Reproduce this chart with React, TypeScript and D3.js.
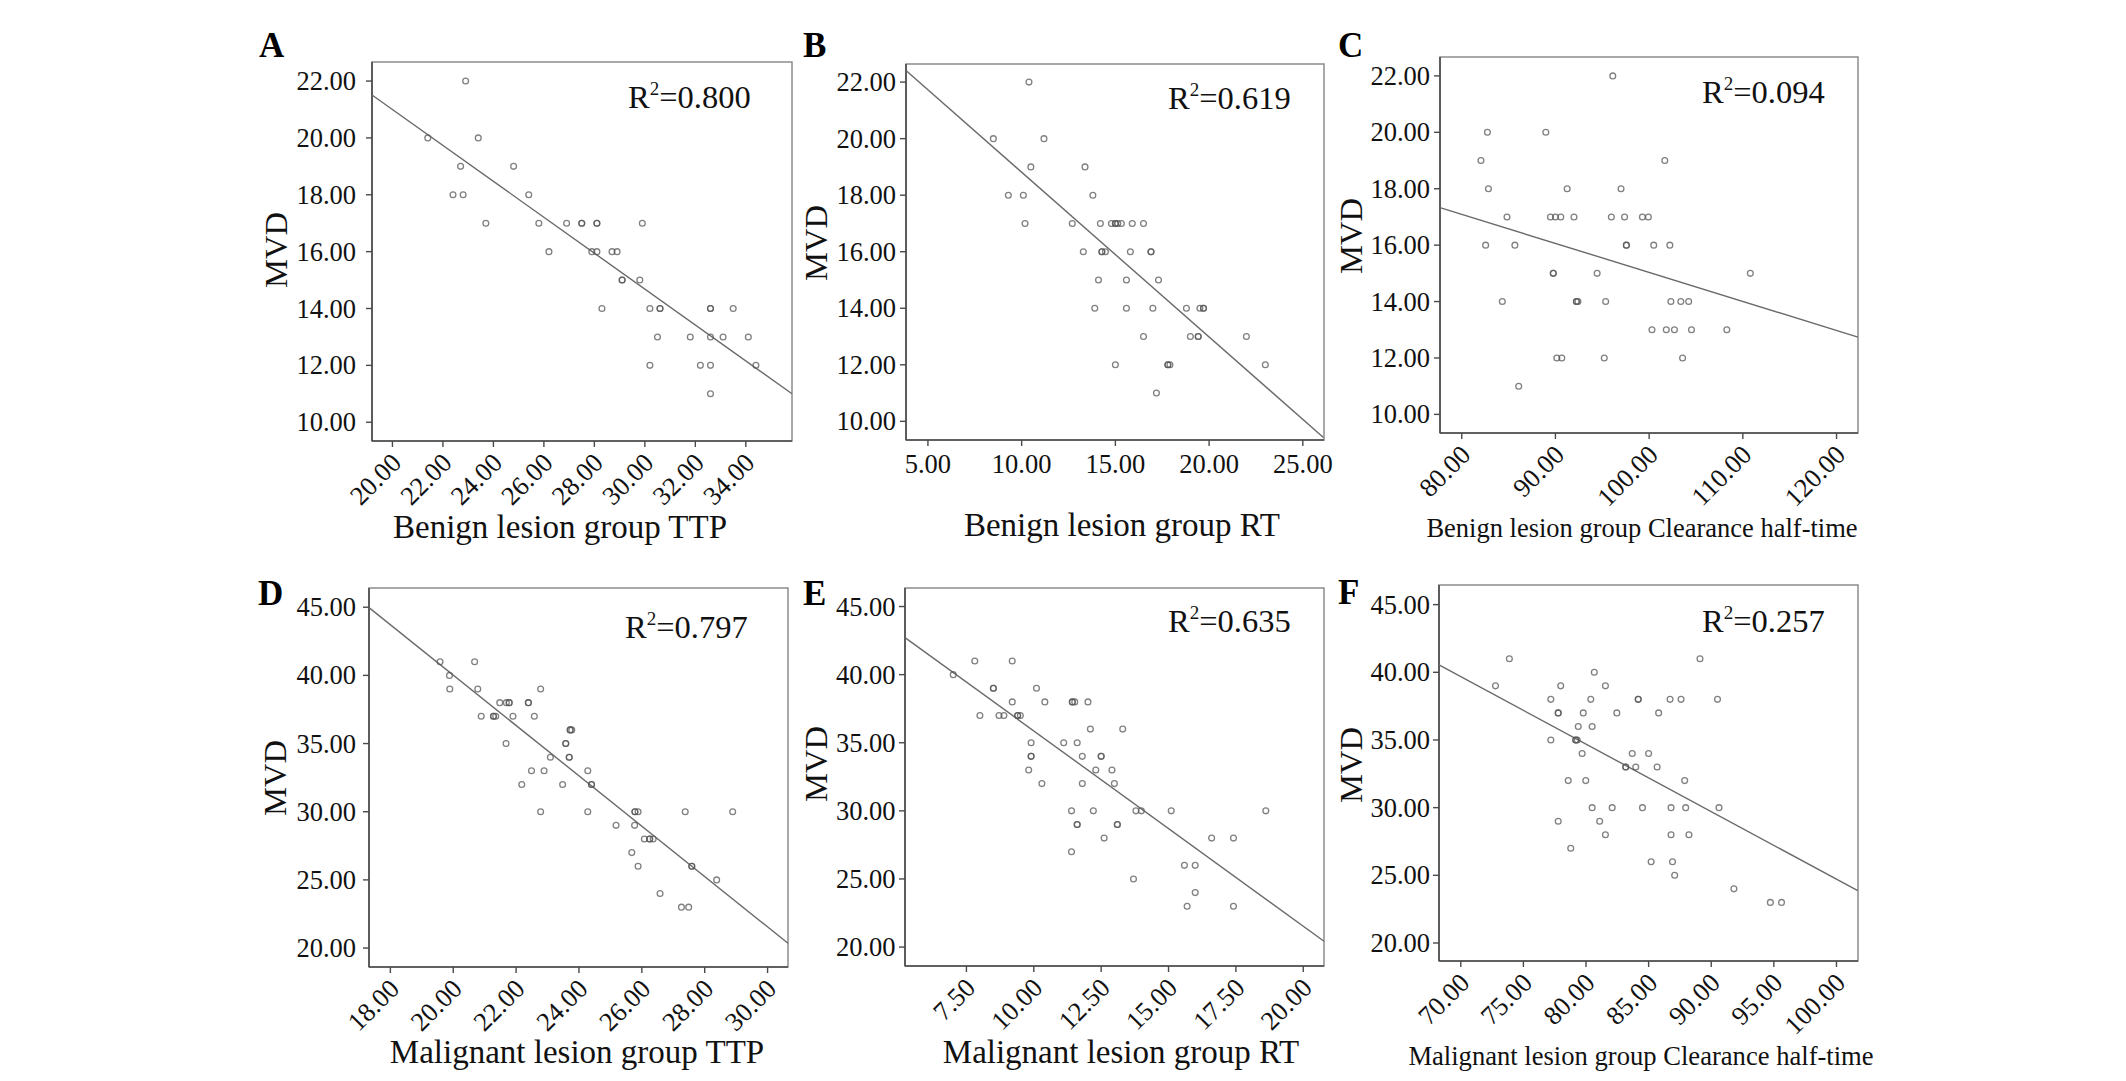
import React from "react";
import * as d3 from "d3";

// ---------- DATA ----------
const benignTTP = [21.4, 22.9, 23.4, 22.7, 24.8, 22.4, 22.8, 25.4, 23.7, 25.8, 26.9, 27.5, 27.5, 28.1, 28.1, 29.9, 26.2, 27.9, 28.1, 28.7, 28.9, 29.1, 29.1, 29.8, 28.3, 30.2, 30.6, 30.6, 32.6, 32.6, 33.5, 30.5, 31.8, 32.6, 33.1, 34.1, 30.2, 32.2, 32.6, 34.4, 32.6];
const benignTTP_MVD = [20, 22, 20, 19, 19, 18, 18, 18, 17, 17, 17, 17, 17, 17, 17, 17, 16, 16, 16, 16, 16, 15, 15, 15, 14, 14, 14, 14, 14, 14, 14, 13, 13, 13, 13, 13, 12, 12, 12, 12, 11];

const benignRT = [10.39, 8.49, 11.19, 10.49, 13.38, 9.29, 10.09, 13.8, 10.18, 12.7, 14.2, 14.79, 15.0, 15.0, 15.13, 15.32, 15.9, 16.5, 13.29, 14.28, 14.28, 14.47, 15.8, 16.9, 16.9, 14.1, 15.59, 17.3, 13.9, 15.59, 17.0, 18.79, 19.51, 19.7, 19.7, 16.5, 19.0, 19.42, 19.42, 21.99, 15.0, 17.8, 17.8, 17.91, 23.0, 17.19];
const benignRT_MVD = [22, 20, 20, 19, 19, 18, 18, 18, 17, 17, 17, 17, 17, 17, 17, 17, 17, 17, 16, 16, 16, 16, 16, 16, 16, 15, 15, 15, 14, 14, 14, 14, 14, 14, 14, 13, 13, 13, 13, 13, 12, 12, 12, 12, 12, 11];

const benignCHT = [96.12, 82.74, 88.97, 82.05, 101.67, 82.85, 91.25, 97.0, 84.83, 89.47, 90.0, 90.57, 91.98, 95.97, 97.38, 99.28, 99.92, 82.55, 85.67, 97.57, 97.57, 100.49, 102.21, 89.77, 89.77, 94.45, 110.8, 84.33, 92.24, 92.24, 92.4, 95.36, 102.32, 103.38, 104.22, 100.3, 101.83, 102.7, 104.52, 108.29, 90.15, 90.68, 95.21, 103.57, 86.08];
const benignCHT_MVD = [22, 20, 20, 19, 19, 18, 18, 18, 17, 17, 17, 17, 17, 17, 17, 17, 17, 16, 16, 16, 16, 16, 16, 15, 15, 15, 15, 14, 14, 14, 14, 14, 14, 14, 14, 13, 13, 13, 13, 13, 12, 12, 12, 12, 11];

const malignantTTP = [19.58, 20.68, 19.88, 19.89, 20.78, 22.78, 21.48, 21.69, 21.78, 21.78, 22.39, 22.39, 20.89, 21.28, 21.28, 21.35, 21.9, 22.58, 23.72, 23.72, 23.77, 21.68, 23.58, 23.58, 23.09, 23.69, 23.69, 22.49, 22.89, 24.28, 22.18, 23.48, 24.4, 24.4, 22.78, 24.28, 25.78, 25.78, 25.88, 27.38, 28.89, 25.18, 25.77, 26.08, 26.25, 26.25, 26.36, 25.68, 25.88, 27.59, 27.59, 28.38, 26.58, 27.26, 27.49];
const malignantTTP_MVD = [41, 41, 40, 39, 39, 39, 38, 38, 38, 38, 38, 38, 37, 37, 37, 37, 37, 37, 36, 36, 36, 35, 35, 35, 34, 34, 34, 33, 33, 33, 32, 32, 32, 32, 30, 30, 30, 30, 30, 30, 30, 29, 29, 28, 28, 28, 28, 27, 26, 26, 26, 25, 24, 23, 23];

const malignantRT = [7.01, 7.81, 9.2, 8.5, 8.5, 10.1, 9.2, 10.41, 11.43, 11.43, 11.52, 12.01, 8.0, 8.71, 8.89, 9.4, 9.4, 9.5, 12.1, 13.3, 9.9, 11.11, 11.61, 9.9, 9.9, 11.8, 12.5, 12.5, 9.81, 12.3, 12.9, 10.3, 11.8, 12.99, 11.4, 12.21, 13.79, 13.99, 15.1, 18.61, 11.61, 11.61, 13.1, 13.1, 12.61, 16.6, 17.41, 11.4, 15.59, 15.99, 13.7, 15.99, 15.69, 17.41];
const malignantRT_MVD = [40, 41, 41, 39, 39, 39, 38, 38, 38, 38, 38, 38, 37, 37, 37, 37, 37, 37, 36, 36, 35, 35, 35, 34, 34, 34, 34, 34, 33, 33, 33, 32, 32, 32, 30, 30, 30, 30, 30, 30, 29, 29, 29, 29, 28, 28, 28, 27, 26, 26, 25, 24, 23, 23];

const malignantCHT = [73.88, 89.1, 80.66, 72.77, 77.98, 81.55, 77.19, 80.38, 84.17, 84.17, 86.71, 87.59, 90.5, 77.78, 77.78, 79.78, 82.46, 85.8, 79.38, 80.49, 77.19, 79.18, 79.18, 79.3, 79.69, 83.69, 85.0, 83.17, 83.17, 83.97, 85.68, 78.58, 79.98, 87.88, 80.49, 82.09, 84.51, 86.79, 87.96, 90.62, 77.78, 81.09, 81.55, 86.79, 88.22, 78.78, 85.2, 86.91, 87.08, 91.81, 94.72, 95.61];
const malignantCHT_MVD = [41, 41, 40, 39, 39, 39, 38, 38, 38, 38, 38, 38, 38, 37, 37, 37, 37, 37, 36, 36, 35, 35, 35, 35, 34, 34, 34, 33, 33, 33, 33, 32, 32, 32, 30, 30, 30, 30, 30, 30, 29, 29, 28, 28, 28, 27, 26, 26, 25, 24, 23, 23];

// fitted regression lines: [x0, y0, x1, y1]
const fitA = [19.19, 21.51, 35.83, 11.0];
const fitB = [3.86, 22.39, 26.1, 9.43];
const fitC = [77.68, 17.33, 122.28, 12.74];
const fitD = [17.32, 44.97, 30.65, 20.35];
const fitE = [5.22, 42.72, 20.77, 20.43];
const fitF = [68.26, 40.55, 101.7, 23.87];

const rSquared = ["0.800", "0.619", "0.094", "0.797", "0.635", "0.257"];
const panelLetters = ["A", "B", "C", "D", "E", "F"];
const xTitles = [
  "Benign lesion group TTP",
  "Benign lesion group RT",
  "Benign lesion group Clearance half-time",
  "Malignant lesion group TTP",
  "Malignant lesion group RT",
  "Malignant lesion group Clearance half-time",
];
const yTitle = "MVD";

const xTicksA = [20, 22, 24, 26, 28, 30, 32, 34];
const xTicksB = [5, 10, 15, 20, 25];
const xTicksC = [80, 90, 100, 110, 120];
const xTicksD = [18, 20, 22, 24, 26, 28, 30];
const xTicksE = [7.5, 10, 12.5, 15, 17.5, 20];
const xTicksF = [70, 75, 80, 85, 90, 95, 100];
const yTicksBenign = [10, 12, 14, 16, 18, 20, 22];
const yTicksMalignant = [20, 25, 30, 35, 40, 45];

const xDomains = [
  [19.19, 35.83],
  [3.83, 26.13],
  [77.68, 122.29],
  [17.32, 30.65],
  [5.22, 20.77],
  [68.26, 101.72],
];
const yDomains = [
  [9.34, 22.67],
  [9.34, 22.64],
  [9.34, 22.67],
  [18.61, 46.41],
  [18.61, 46.36],
  [18.67, 46.45],
];

// ---------- LAYOUT ----------
const FONT = "'Liberation Serif', 'Times New Roman', serif";

type Layout = {
  box: [number, number, number, number]; // left, right, top, bottom
  letter: [number, number];
  r2: [number, number];
  mvd: [number, number];
  title: [number, number, number];
  rotated: boolean;
  yGap: number;
};

const layouts: Layout[] = [
  { box: [372, 792, 62, 441], letter: [259, 57], r2: [628, 108], mvd: [287, 250], title: [560, 538, 33], rotated: true, yGap: 16 },
  { box: [906, 1324, 64, 440], letter: [803, 57], r2: [1168, 109], mvd: [827, 243], title: [1122, 536, 33], rotated: false, yGap: 10 },
  { box: [1440, 1858, 57, 433], letter: [1338, 57], r2: [1702, 103], mvd: [1362, 236], title: [1642, 537, 26.5], rotated: true, yGap: 10 },
  { box: [369, 788, 588, 967], letter: [258, 605], r2: [625, 638], mvd: [286, 778], title: [577, 1063, 33], rotated: true, yGap: 13 },
  { box: [905, 1324, 588, 966], letter: [803, 605], r2: [1168, 632], mvd: [827, 764], title: [1121, 1063, 33], rotated: true, yGap: 9.5 },
  { box: [1439, 1858, 585, 961], letter: [1338, 604], r2: [1702, 632], mvd: [1362, 765], title: [1641, 1065, 26.6], rotated: true, yGap: 9 },
];

const panelsData = [
  { xs: benignTTP, ys: benignTTP_MVD, fit: fitA, xTicks: xTicksA, yTicks: yTicksBenign },
  { xs: benignRT, ys: benignRT_MVD, fit: fitB, xTicks: xTicksB, yTicks: yTicksBenign },
  { xs: benignCHT, ys: benignCHT_MVD, fit: fitC, xTicks: xTicksC, yTicks: yTicksBenign },
  { xs: malignantTTP, ys: malignantTTP_MVD, fit: fitD, xTicks: xTicksD, yTicks: yTicksMalignant },
  { xs: malignantRT, ys: malignantRT_MVD, fit: fitE, xTicks: xTicksE, yTicks: yTicksMalignant },
  { xs: malignantCHT, ys: malignantCHT_MVD, fit: fitF, xTicks: xTicksF, yTicks: yTicksMalignant },
];

const fmt = d3.format(".2f");

function Panel({ i }: { i: number }) {
  const L = layouts[i];
  const D = panelsData[i];
  const [left, right, top, bottom] = L.box;
  const x = d3.scaleLinear().domain(xDomains[i]).range([left, right]);
  const y = d3.scaleLinear().domain(yDomains[i]).range([bottom, top]);
  const line = d3
    .line<[number, number]>()
    .x((d) => x(d[0]))
    .y((d) => y(d[1]));
  const fitPts: [number, number][] = [
    [D.fit[0], D.fit[1]],
    [D.fit[2], D.fit[3]],
  ];
  const axisColor = "#4a4a4a";
  const frameColor = "#8c8c8c";
  return (
    <g>
      <rect x={left} y={top} width={right - left} height={bottom - top} fill="none" stroke={frameColor} strokeWidth={1.5} />
      <line x1={left} x2={left} y1={top} y2={bottom} stroke={axisColor} strokeWidth={1.6} />
      <line x1={left} x2={right} y1={bottom} y2={bottom} stroke={axisColor} strokeWidth={1.6} />
      {D.yTicks.map((t) => (
        <g key={"y" + t}>
          <line x1={left - 6} x2={left} y1={y(t)} y2={y(t)} stroke={axisColor} strokeWidth={1.4} />
          <text x={left - L.yGap} y={y(t)} dy="0.34em" textAnchor="end" fontSize={26.5} fill="#111">
            {fmt(t)}
          </text>
        </g>
      ))}
      {D.xTicks.map((t) => (
        <g key={"x" + t}>
          <line x1={x(t)} x2={x(t)} y1={bottom} y2={bottom + 6} stroke={axisColor} strokeWidth={1.4} />
          {L.rotated ? (
            <text
              transform={`translate(${x(t) + 4},${bottom + 17}) rotate(-45)`}
              dy="0.34em"
              textAnchor="end"
              fontSize={26.5}
              fill="#111"
            >
              {fmt(t)}
            </text>
          ) : (
            <text x={x(t)} y={bottom + 33} textAnchor="middle" fontSize={26.5} fill="#111">
              {fmt(t)}
            </text>
          )}
        </g>
      ))}
      <path d={line(fitPts) || ""} stroke="#6a6a6a" strokeWidth={1.4} fill="none" />
      {D.xs.map((v, k) => (
        <circle
          key={k}
          cx={x(v)}
          cy={y(D.ys[k])}
          r={2.9}
          fill="none"
          stroke="#555"
          strokeOpacity={0.75}
          strokeWidth={1.3}
        />
      ))}
      <text x={L.r2[0]} y={L.r2[1]} fontSize={32.5} fill="#111">
        R
        <tspan fontSize={19} dy={-13}>
          2
        </tspan>
        <tspan dy={13}>={rSquared[i]}</tspan>
      </text>
      <text
        transform={`translate(${L.mvd[0]},${L.mvd[1]}) rotate(-90)`}
        textAnchor="middle"
        fontSize={32.5}
        fill="#111"
      >
        {yTitle}
      </text>
      <text x={L.title[0]} y={L.title[1]} textAnchor="middle" fontSize={L.title[2]} fill="#111">
        {xTitles[i]}
      </text>
      <text x={L.letter[0]} y={L.letter[1]} fontSize={35} fontWeight="bold" fill="#000">
        {panelLetters[i]}
      </text>
    </g>
  );
}

export default function App() {
  return (
    <svg
      width={2126}
      height={1081}
      style={{ position: "absolute", left: 0, top: 0, background: "#fff" }}
      fontFamily={FONT}
    >
      <rect x={0} y={0} width={2126} height={1081} fill="#fff" />
      {panelLetters.map((_, i) => (
        <Panel key={i} i={i} />
      ))}
    </svg>
  );
}
